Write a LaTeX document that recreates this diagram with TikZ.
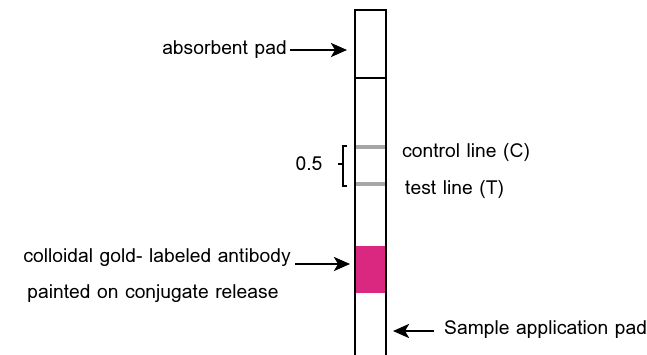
\documentclass[tikz,border=0pt]{standalone}
\usepackage{fontspec}
\setmainfont{Loma}
\usetikzlibrary{arrows.meta}
\definecolor{goldpink}{RGB}{218,40,128}
\begin{document}
\begin{tikzpicture}[x=1pt,y=-1pt,
  lbl/.style={inner sep=0pt,font=\fontsize{19.3}{21}\selectfont},
  arr/.style={-{Stealth[length=16pt,width=14pt,inset=4pt]},line width=2.7pt},
  strip/.style={line width=2.3pt},
  testline/.style={line width=3.2pt,draw=black!35}]
\useasboundingbox (0,0) rectangle (647,354);
% strip
\fill[goldpink] (355,246) rectangle (386,293);
\draw[testline] (355,147) -- (386,147);
\draw[testline] (355,184) -- (386,184);
\draw[strip] (355,360) -- (355,10) -- (386,10) -- (386,360);
\draw[line width=1.5pt] (355,78) -- (386,78);
\coordinate (absin) at (347,50);
\coordinate (goldin) at (350,264);
\coordinate (samplein) at (393,331);
% labels
\node[lbl,anchor=east] (abs) at (287,50) {absorbent pad};
\draw[arr] (abs.east) ++(3,0) -- (absin);
\node[lbl,anchor=west] (ctl) at (402,153) {control line (C)};
\node[lbl,anchor=west] (tst) at (405,189) {test line (T)};
\node[lbl] (half) at (309,164) {0.5};
\draw[line width=1.1pt] (347,146) -- (343,146) -- (343,186) -- (347,186);
\draw[line width=1.1pt] (343,164) -- (338,164);
\node[lbl,anchor=east] (gold) at (291,258) {colloidal gold- labeled antibody};
\node[lbl] (paint) at (153,294) {painted on conjugate release};
\draw[arr] (gold.east |- goldin) ++(4,0) -- (goldin);
\node[lbl,anchor=west] (sample) at (444,330) {Sample application pad};
\draw[arr] (sample.west |- samplein) ++(-10,0) -- (samplein);
\end{tikzpicture}
\end{document}
